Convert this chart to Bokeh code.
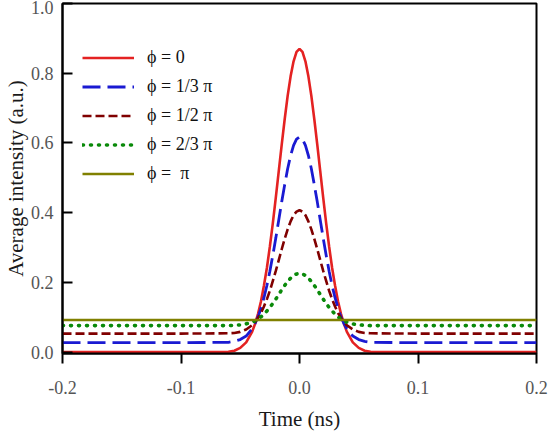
from bokeh.plotting import figure
from bokeh.models import Range1d, FixedTicker, NumeralTickFormatter, Legend, LegendItem
from bokeh.embed import file_html
from bokeh.resources import INLINE

# Time axis (ns) and average intensity (a.u.) for each phase value
time_ns = [-0.2, -0.1, -0.06, -0.055, -0.05, -0.045, -0.04, -0.0375, -0.035, -0.0325,
           -0.03, -0.0275, -0.025, -0.0225, -0.02, -0.0175, -0.015, -0.0125, -0.01,
           -0.0075, -0.005, -0.0025, 0.0,
           0.0025, 0.005, 0.0075, 0.01, 0.0125, 0.015, 0.0175, 0.02, 0.0225, 0.025,
           0.0275, 0.03, 0.0325, 0.035, 0.0375, 0.04, 0.045, 0.05, 0.055, 0.06, 0.1, 0.2]
phi_0 = [0.0, 0.0, 0.001, 0.004, 0.012, 0.028, 0.058, 0.081, 0.110, 0.146,
         0.191, 0.242, 0.303, 0.370, 0.443, 0.519, 0.595, 0.668, 0.735,
         0.791, 0.834, 0.861, 0.870,
         0.861, 0.834, 0.791, 0.735, 0.668, 0.595, 0.519, 0.443, 0.370, 0.303,
         0.242, 0.191, 0.146, 0.110, 0.081, 0.058, 0.028, 0.012, 0.004, 0.001, 0.0, 0.0]
phi_third = [0.027, 0.027, 0.028, 0.031, 0.036, 0.046, 0.067, 0.082, 0.101, 0.126,
             0.156, 0.191, 0.232, 0.278, 0.327, 0.379, 0.431, 0.480, 0.526,
             0.564, 0.593, 0.611, 0.617,
             0.611, 0.593, 0.564, 0.526, 0.480, 0.431, 0.379, 0.327, 0.278, 0.232,
             0.191, 0.156, 0.126, 0.101, 0.082, 0.067, 0.046, 0.036, 0.031, 0.028, 0.027, 0.027]
phi_half = [0.053, 0.053, 0.054, 0.055, 0.058, 0.065, 0.077, 0.086, 0.098, 0.112,
            0.131, 0.152, 0.176, 0.204, 0.233, 0.264, 0.295, 0.325, 0.352,
            0.375, 0.393, 0.403, 0.407,
            0.403, 0.393, 0.375, 0.352, 0.325, 0.295, 0.264, 0.233, 0.204, 0.176,
            0.152, 0.131, 0.112, 0.098, 0.086, 0.077, 0.065, 0.058, 0.055, 0.054, 0.053, 0.053]
phi_two_thirds = [0.076, 0.076, 0.076, 0.077, 0.078, 0.081, 0.086, 0.090, 0.095, 0.101,
                  0.109, 0.118, 0.128, 0.140, 0.152, 0.165, 0.179, 0.191, 0.203,
                  0.212, 0.220, 0.224, 0.226,
                  0.224, 0.220, 0.212, 0.203, 0.191, 0.179, 0.165, 0.152, 0.140, 0.128,
                  0.118, 0.109, 0.101, 0.095, 0.090, 0.086, 0.081, 0.078, 0.077, 0.076,
                  0.076, 0.076]
time_flat = [-0.2, 0.2]
phi_pi = [0.092, 0.092]

labels = ["ϕ = 0", "ϕ = 1/3 π", "ϕ = 1/2 π", "ϕ = 2/3 π", "ϕ =  π"]
x_ticks = [-0.2, -0.1, 0.0, 0.1, 0.2]
y_ticks = [0.0, 0.2, 0.4, 0.6, 0.8, 1.0]

SERIF = "Liberation Serif"

p = figure(width=548, height=433, output_backend="svg", toolbar_location=None,
           x_range=Range1d(-0.2, 0.2), y_range=Range1d(-0.004, 1.0),
           min_border_left=61, min_border_right=12, min_border_top=3,
           min_border_bottom=80)
p.background_fill_color = "white"
p.border_fill_color = "white"
p.outline_line_color = "black"
p.outline_line_width = 2
p.xgrid.visible = False
p.ygrid.visible = False

r0 = p.line(time_ns, phi_0, line_color="#e42222", line_width=2.6)
r1 = p.line(time_ns, phi_third, line_color="#1a1ad2", line_width=2.8, line_dash="18 7")
r2 = p.line(time_ns, phi_half, line_color="#800000", line_width=2.6, line_dash="9 4")
r3 = p.line(time_ns, phi_two_thirds, line_color="#0a8a0a", line_width=3.6,
            line_dash="1 7", line_cap="round")
r4 = p.line(time_flat, phi_pi, line_color="#808000", line_width=2.6)

# Axes
xa = p.xaxis[0]
xa.ticker = FixedTicker(ticks=x_ticks)
xa.formatter = NumeralTickFormatter(format="0.0")
xa.major_tick_in = 0
xa.major_tick_out = 10
xa.minor_tick_line_color = None
xa.axis_line_width = 2
xa.major_tick_line_width = 2
xa.major_label_standoff = 17
xa.axis_label = "Time (ns)"
xa.axis_label_standoff = 10

ya = p.yaxis[0]
ya.ticker = FixedTicker(ticks=y_ticks)
ya.formatter = NumeralTickFormatter(format="0.0")
ya.major_tick_in = 10
ya.major_tick_out = 0
ya.minor_tick_line_color = None
ya.axis_line_width = 2
ya.major_tick_line_width = 2
ya.major_label_standoff = 9
ya.axis_label = "Average intensity (a.u.)"
ya.axis_label_standoff = 0

for ax in (xa, ya):
    ax.axis_line_color = "black"
    ax.major_tick_line_color = "black"
    ax.major_label_text_font = SERIF
    ax.major_label_text_font_size = "18px"
    ax.major_label_text_color = "#555555"
    ax.axis_label_text_font = SERIF
    ax.axis_label_text_font_size = "21px"
    ax.axis_label_text_font_style = "normal"
    ax.axis_label_text_color = "#1a1a1a"

legend = Legend(items=[LegendItem(label=l, renderers=[r]) for l, r in
                       zip(labels, [r0, r1, r2, r3, r4])],
                location=(20, 169))
legend.border_line_color = None
legend.background_fill_alpha = 0
legend.padding = 7
legend.margin = 0
legend.spacing = 8
legend.glyph_width = 52
legend.glyph_height = 21
legend.label_height = 21
legend.label_standoff = 13
legend.label_text_font = SERIF
legend.label_text_font_size = "18px"
legend.label_text_color = "#111111"
p.add_layout(legend, "center")

open("out.html", "w").write(file_html(p, INLINE))
